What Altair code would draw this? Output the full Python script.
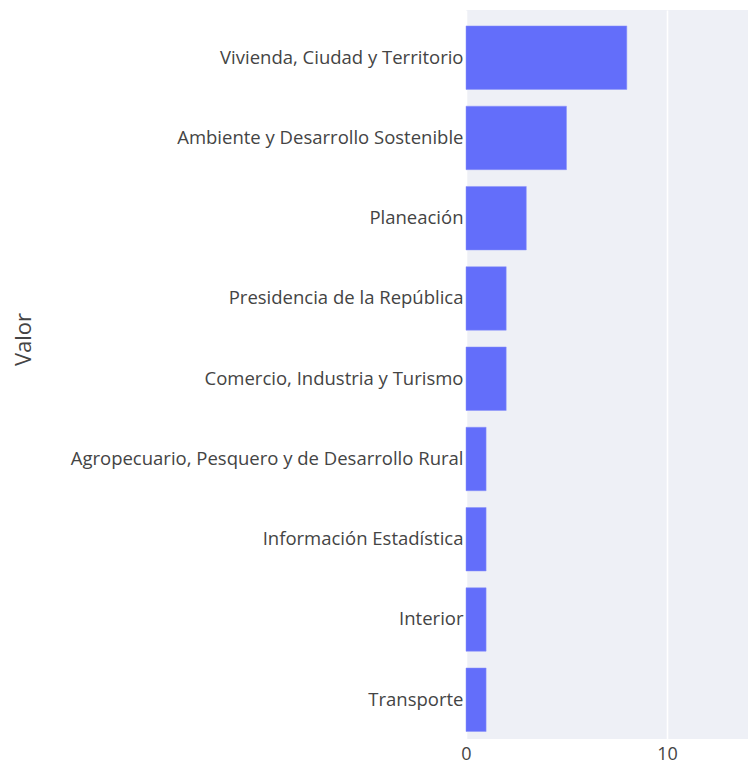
import altair as alt
import pandas as pd

categorias = [
    "Vivienda, Ciudad y Territorio",
    "Ambiente y Desarrollo Sostenible",
    "Planeación",
    "Presidencia de la República",
    "Comercio, Industria y Turismo",
    "Agropecuario, Pesquero y de Desarrollo Rural",
    "Información Estadística",
    "Interior",
    "Transporte",
]
valores = [8, 5, 3, 2, 2, 1, 1, 1, 1]

df = pd.DataFrame({"Sector": categorias, "Valor": valores})

FONT = "Open Sans"
TXT = "#444444"

chart = (
    alt.Chart(df)
    .mark_bar(color="#636EFA", stroke="#8a93fb", strokeWidth=0.5)
    .encode(
        x=alt.X(
            "Valor:Q",
            scale=alt.Scale(domain=[0, 14.03], nice=False, zero=True),
            axis=alt.Axis(
                values=[0, 10],
                title=None,
                grid=True,
                gridColor="white",
                gridWidth=1.6,
                domain=False,
                ticks=False,
                labelFont=FONT,
                labelFontSize=18,
                labelColor=TXT,
                labelPadding=6,
                labelFlush=False,
            ),
        ),
        y=alt.Y(
            "Sector:N",
            sort=categorias,
            scale=alt.Scale(paddingInner=0.209, paddingOuter=0.146, align=0.68),
            axis=alt.Axis(
                title="Valor",
                titleFont=FONT,
                titleFontSize=22,
                titleFontWeight="normal",
                titleColor=TXT,
                titleAngle=-90,
                titleX=-443,
                titleY=329,
                titleAlign="center",
                titleBaseline="middle",
                domain=False,
                ticks=False,
                grid=False,
                labelFont=FONT,
                labelFontSize=18.5,
                labelColor=TXT,
                labelPadding=3,
                labelLimit=500,
            ),
        ),
    )
    .properties(
        width=282,
        height=729,
        background="white",
        autosize=alt.AutoSizeParams(type="none"),
        padding={"left": 458, "top": 2, "right": 0, "bottom": 25},
    )
    .configure_view(fill="#EEF0F6", strokeWidth=0)
)

chart.save("out.html", embed_options={"renderer": "svg", "actions": False})
